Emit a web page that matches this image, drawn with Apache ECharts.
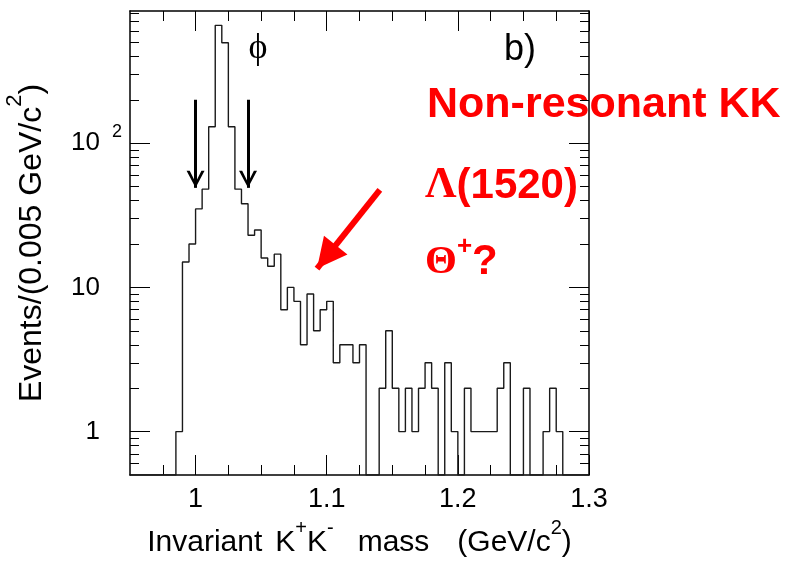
<!DOCTYPE html>
<html>
<head>
<meta charset="utf-8">
<script src="https://cdn.jsdelivr.net/npm/echarts@6/dist/echarts.min.js"></script>
<style>
  html, body { margin: 0; padding: 0; background: #fff; }
  #chart { width: 792px; height: 561px; }
</style>
</head>
<body>
<div id="chart"></div>
<script>
// K+K- invariant mass histogram, 0.005 GeV/c^2 bins
// bin low edges, last value is the upper edge of the last bin
const binEdges = [
  0.950, 0.955, 0.960, 0.965, 0.970, 0.975, 0.980, 0.985, 0.990, 0.995,
  1.000, 1.005, 1.010, 1.015, 1.020, 1.025, 1.030, 1.035, 1.040, 1.045,
  1.050, 1.055, 1.060, 1.065, 1.070, 1.075, 1.080, 1.085, 1.090, 1.095,
  1.100, 1.105, 1.110, 1.115, 1.120, 1.125, 1.130, 1.135, 1.140, 1.145,
  1.150, 1.155, 1.160, 1.165, 1.170, 1.175, 1.180, 1.185, 1.190, 1.195,
  1.200, 1.205, 1.210, 1.215, 1.220, 1.225, 1.230, 1.235, 1.240, 1.245,
  1.250, 1.255, 1.260, 1.265, 1.270, 1.275, 1.280, 1.285, 1.290, 1.295,
  1.300
];
const counts = [
  0, 0, 0, 0, 0, 0, 0, 1, 15, 20,
  35, 48, 130, 656, 497, 130, 48, 38, 23, 25,
  16, 14, 17, 7, 10, 8, 4, 9, 5, 7,
  8, 3, 4, 4, 3, 4, 0, 0, 2, 5,
  2, 1, 2, 1, 2, 3, 2, 0, 3, 1,
  0, 2, 1, 1, 1, 1, 2, 3, 0, 0,
  2, 0, 0, 1, 2, 1, 0, 0, 0, 0
];

const xRange = [0.95, 1.3];
const yRange = [0.5, 825];
const xMajor = [1, 1.1, 1.2, 1.3];
const xMinor = [0.975, 1.025, 1.05, 1.075, 1.125, 1.15, 1.175, 1.225, 1.25, 1.275];
const yMajor = [1, 10, 100];
const yMinor = [0.6, 0.7, 0.8, 0.9, 2, 3, 4, 5, 6, 7, 8, 9,
  20, 30, 40, 50, 60, 70, 80, 90, 200, 300, 400, 500, 600, 700, 800];

// phi mass window arrows and the Theta+ arrow (data coordinates)
const phiWindow = [1.0, 1.04];
const phiArrowY = [200, 49];
const thetaArrow = [[1.1405, 47.5], [1.0926, 13.5]];

const FONT = 'Liberation Sans, Arial, sans-serif';
const SERIF = 'Liberation Serif, Times New Roman, serif';
const RED = '#ff0000';

// empty bins sit on the bottom of the log axis
const histData = binEdges.map((x, i) => {
  const c = counts[Math.min(i, counts.length - 1)];
  return [x, c > 0 ? c : yRange[0]];
});

function xAxisOf(position, ticks, len, opts) {
  return Object.assign({
    type: 'value', position: position, min: xRange[0], max: xRange[1],
    axisLine: { show: false },
    axisTick: { show: true, inside: true, length: len, customValues: ticks,
      lineStyle: { color: '#000', width: 1 } },
    axisLabel: { show: false },
    splitLine: { show: false }
  }, opts || {});
}
function yAxisOf(position, ticks, len, opts) {
  return Object.assign({
    type: 'log', logBase: 10, position: position, min: yRange[0], max: yRange[1],
    axisLine: { show: false },
    axisTick: { show: true, inside: true, length: len, customValues: ticks,
      lineStyle: { color: '#000', width: 1 } },
    axisLabel: { show: false },
    splitLine: { show: false }
  }, opts || {});
}

const frameLine = { show: true, lineStyle: { color: '#000', width: 1.5 } };
const supStyle = { fontSize: 20, lineHeight: 14, verticalAlign: 'top', color: '#000', fontFamily: FONT };

const chart = echarts.init(document.getElementById('chart'));
chart.setOption({
  animation: false,
  backgroundColor: '#fff',
  textStyle: { fontFamily: FONT },
  grid: { left: 130, top: 11, width: 459, height: 464, containLabel: false, outerBoundsMode: 'none' },
  xAxis: [
    xAxisOf('bottom', xMajor, 20, {
      axisLine: frameLine,
      axisLabel: {
        show: true, customValues: xMajor, margin: 11,
        fontSize: 27, color: '#000', fontFamily: FONT,
        formatter: v => String(v)
      },
      name: 'Invariant{g1| }K{sup|+}K{sup|-}{g2| }mass{g3| }(GeV/c{sup|2})',
      nameLocation: 'middle', nameGap: 43,
      nameTextStyle: {
        fontSize: 30, color: '#000', fontFamily: FONT, lineHeight: 50,
        rich: {
          sup: supStyle,
          g1: { width: 13, fontSize: 10 },
          g2: { width: 24, fontSize: 10 },
          g3: { width: 28, fontSize: 10 }
        }
      }
    }),
    xAxisOf('bottom', xMinor, 10),
    xAxisOf('top', xMajor, 20, { axisLine: frameLine }),
    xAxisOf('top', xMinor, 10)
  ],
  yAxis: [
    yAxisOf('left', yMajor, 20, {
      axisLine: frameLine,
      axisLabel: {
        show: true, customValues: yMajor, margin: 8,
        formatter: v => {
          const n = Math.round(v);
          return n === 100 ? '{b|10}{s|2}' : '{b|' + n + '}{s| }';
        },
        rich: {
          b: { fontSize: 26, lineHeight: 40, color: '#000', fontFamily: FONT },
          s: { fontSize: 18, lineHeight: 18, width: 22, align: 'right', verticalAlign: 'top', color: '#000', fontFamily: FONT }
        }
      },
      name: 'Events/(0.005 GeV/c{sup|2})',
      nameLocation: 'middle', nameGap: 58,
      nameTextStyle: {
        fontSize: 32, color: '#000', fontFamily: FONT, lineHeight: 56,
        rich: { sup: { fontSize: 22, lineHeight: 16, verticalAlign: 'top', color: '#000', fontFamily: FONT } }
      }
    }),
    yAxisOf('left', yMinor, 9),
    yAxisOf('right', yMajor, 20, { axisLine: frameLine }),
    yAxisOf('right', yMinor, 9)
  ],
  series: [
    {
      type: 'line',
      xAxisIndex: 0, yAxisIndex: 0,
      step: 'end',
      data: histData,
      showSymbol: false,
      silent: true,
      lineStyle: { color: '#1a1a1a', width: 1.4 }
    },
    {
      type: 'line',
      xAxisIndex: 0, yAxisIndex: 0,
      data: [],
      silent: true,
      markLine: {
        silent: true,
        animation: false,
        label: { show: false },
        lineStyle: { color: '#000', width: 3, type: 'solid' },
        data: phiWindow.map(x => [
          { coord: [x, phiArrowY[0]], symbol: 'none' },
          { coord: [x, phiArrowY[1]], symbol: 'path://M0,14L10,0L20,14L16.5,14L10,4.5L3.5,14Z',
            symbolSize: [18, 17], symbolOffset: [0, 8.5] }
        ])
      }
    },
    {
      type: 'line',
      xAxisIndex: 0, yAxisIndex: 0,
      data: [],
      silent: true,
      markLine: {
        silent: true,
        animation: false,
        label: { show: false },
        lineStyle: { color: RED, width: 6, type: 'solid' },
        data: [[
          { coord: thetaArrow[0], symbol: 'none' },
          { coord: thetaArrow[1], symbol: 'triangle', symbolSize: [30, 30], symbolOffset: [0, 15] }
        ]]
      }
    }
  ],
  graphic: [
    {
      type: 'text', x: 258, y: 49, silent: true,
      style: { text: '\u03d5', font: '36px ' + SERIF, fill: '#000',
        align: 'center', verticalAlign: 'middle', textAlign: 'center', textVerticalAlign: 'middle' }
    },
    {
      type: 'text', x: 504, y: 50, silent: true,
      style: { text: 'b)', font: '36px ' + FONT, fill: '#000',
        align: 'left', verticalAlign: 'middle', textAlign: 'left', textVerticalAlign: 'middle' }
    },
    {
      type: 'text', x: 427, y: 105, silent: true,
      style: { text: 'Non-resonant KK', font: 'bold 43px ' + FONT, fill: RED,
        align: 'left', verticalAlign: 'middle', textAlign: 'left', textVerticalAlign: 'middle' }
    },
    {
      type: 'text', x: 425, y: 186, silent: true,
      style: {
        text: '{g|\u039b}{b|(1520)}', fill: RED,
        align: 'left', verticalAlign: 'middle', textAlign: 'left', textVerticalAlign: 'middle',
        rich: {
          g: { fontFamily: SERIF, fontWeight: 'bold', fontSize: 44, lineHeight: 50, fill: RED, color: RED },
          b: { fontFamily: FONT, fontWeight: 'bold', fontSize: 42, lineHeight: 50, fill: RED, color: RED }
        }
      }
    },
    {
      type: 'text', x: 425, y: 262, silent: true,
      style: {
        text: '{g|\u0398}{s|+}{b|?}', fill: RED,
        align: 'left', verticalAlign: 'middle', textAlign: 'left', textVerticalAlign: 'middle',
        rich: {
          g: { fontFamily: SERIF, fontWeight: 'bold', fontSize: 41, lineHeight: 56, fill: RED, color: RED },
          s: { fontFamily: FONT, fontWeight: 'bold', fontSize: 26, lineHeight: 36, verticalAlign: 'top', fill: RED, color: RED },
          b: { fontFamily: FONT, fontWeight: 'bold', fontSize: 42, lineHeight: 56, fill: RED, color: RED }
        }
      }
    }
  ]
});
</script>
</body>
</html>
